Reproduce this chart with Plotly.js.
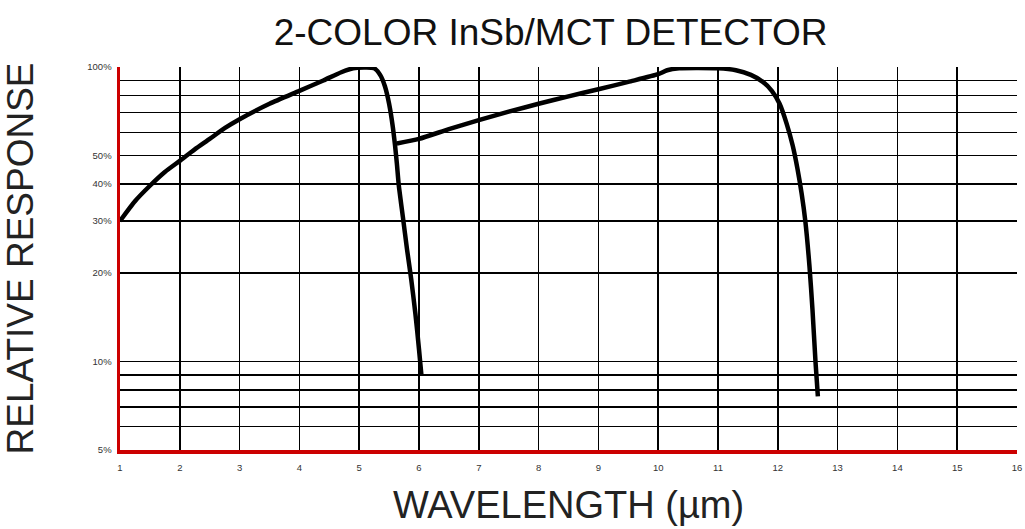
<!DOCTYPE html>
<html>
<head>
<meta charset="utf-8">
<script src="https://cdn.plot.ly/plotly-3.0.1.min.js"></script>
<style>
  html, body { margin: 0; padding: 0; background: #ffffff; }
  #chart { width: 1025px; height: 529px; }
</style>
</head>
<body>
<div id="chart"></div>
<script>
// InSb (short-wave) channel: wavelength (µm) and relative response (%)
var insbWavelength = [1.0, 1.25, 1.5, 1.75, 2.0, 2.25, 2.5, 2.75, 3.0, 3.5, 4.0, 4.4, 4.7, 4.9, 5.25, 5.35, 5.43, 5.5, 5.56, 5.6, 5.63, 5.66, 5.73, 5.8, 5.87, 5.94, 6.0, 6.04];
var insbResponse   = [30, 35, 39.5, 44, 48, 52.5, 57, 62, 66.5, 75, 83, 90, 96, 99, 99, 94, 86, 75, 63, 54, 47, 40, 31, 24, 19, 14.5, 11, 9];

// MCT (long-wave) channel
var mctWavelength = [5.63, 6.0, 6.5, 7.0, 7.5, 8.0, 8.5, 9.0, 9.5, 10.0, 10.15, 10.35, 11.0, 11.3, 11.55, 11.75, 11.9, 12.03, 12.15, 12.25, 12.33, 12.4, 12.46, 12.53, 12.58, 12.63, 12.67];
var mctResponse   = [55, 57, 61.5, 66, 70.5, 75, 79.5, 84, 89, 94.5, 97.5, 99, 99, 97.5, 94, 89, 83, 75, 64, 54, 45, 37, 30, 21, 15, 10, 7.6];

// Axis ticks
var xTickValues = [1, 2, 3, 4, 5, 6, 7, 8, 9, 10, 11, 12, 13, 14, 15, 16];
var xTickLabels = ['1', '2', '3', '4', '5', '6', '7', '8', '9', '10', '11', '12', '13', '14', '15', '16'];
var yTickValues = [5, 6, 7, 8, 9, 10, 20, 30, 40, 50, 60, 70, 80, 90, 100];
var yTickLabels = ['5%', '', '', '', '', '10%', '20%', '30%', '40%', '50%', '', '', '', '', '100%'];

var lineStyle = { color: '#000000', width: 4.5, shape: 'spline', smoothing: 0.6 };

var traces = [
  { x: insbWavelength, y: insbResponse, type: 'scatter', mode: 'lines', name: 'InSb', line: lineStyle, hoverinfo: 'x+y' },
  { x: mctWavelength, y: mctResponse, type: 'scatter', mode: 'lines', name: 'MCT', line: lineStyle, hoverinfo: 'x+y' }
];

var fontFamily = '"Liberation Sans", Arial, Helvetica, sans-serif';

var layout = {
  width: 1025,
  height: 529,
  paper_bgcolor: '#ffffff',
  plot_bgcolor: '#ffffff',
  showlegend: false,
  margin: { l: 120, r: 8, t: 67, b: 79, pad: 0 },
  font: { family: fontFamily, color: '#222222' },
  title: {
    text: '2-COLOR InSb/MCT DETECTOR',
    font: { family: fontFamily, size: 37, color: '#111111' },
    xref: 'paper', x: 0.48, xanchor: 'center',
    yref: 'container', y: 0.94, yanchor: 'middle'
  },
  xaxis: {
    range: [1, 16],
    tickmode: 'array',
    tickvals: xTickValues,
    ticktext: xTickLabels,
    ticks: '',
    ticklabelstandoff: 6,
    tickfont: { family: fontFamily, size: 9.5, color: '#333333' },
    showgrid: true, gridcolor: '#000000', gridwidth: 1.5,
    zeroline: false,
    showline: true, linecolor: '#cc0000', linewidth: 3.5,
    title: {
      text: 'WAVELENGTH (µm)',
      font: { family: fontFamily, size: 38, color: '#222222' },
      standoff: 20
    }
  },
  yaxis: {
    type: 'log',
    range: [Math.log10(5), 2],
    tickmode: 'array',
    tickvals: yTickValues,
    ticktext: yTickLabels,
    ticks: '',
    ticklabelstandoff: 3,
    tickfont: { family: fontFamily, size: 9.5, color: '#333333' },
    showgrid: true, gridcolor: '#000000', gridwidth: 1.5,
    zeroline: false,
    showline: true, linecolor: '#cc0000', linewidth: 3.5,
    title: {
      text: 'RELATIVE RESPONSE',
      font: { family: fontFamily, size: 37, color: '#222222' },
      standoff: 45
    }
  }
};

Plotly.newPlot('chart', traces, layout, { staticPlot: true, displayModeBar: false });
</script>
</body>
</html>
